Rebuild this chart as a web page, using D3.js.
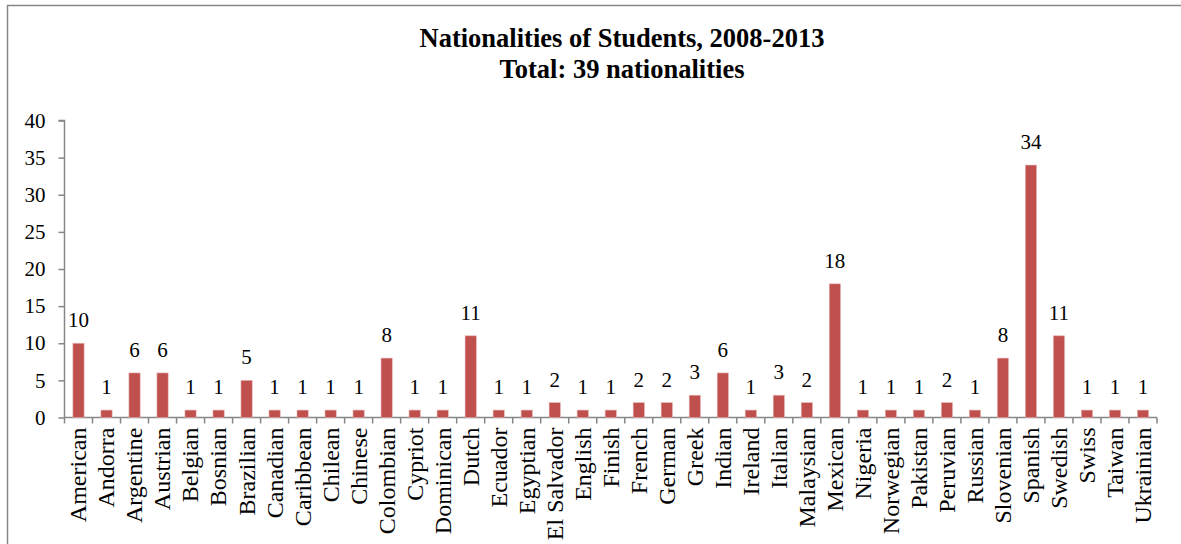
<!DOCTYPE html>
<html>
<head>
<meta charset="utf-8">
<script src="https://cdn.jsdelivr.net/npm/d3@7"></script>
<style>
  body { margin: 0; background: #fff; }
  text { font-family: "Liberation Serif", "Times New Roman", serif; fill: #000; }
</style>
</head>
<body>
<div id="chartDiv"></div>
<script>

// data
var nationalities = ["American", "Andorra", "Argentine", "Austrian", "Belgian", "Bosnian", "Brazilian",
  "Canadian", "Caribbean", "Chilean", "Chinese", "Colombian", "Cypriot", "Dominican", "Dutch",
  "Ecuador", "Egyptian", "El Salvador", "English", "Finish", "French", "German", "Greek", "Indian",
  "Ireland", "Italian", "Malaysian", "Mexican", "Nigeria", "Norwegian", "Pakistan", "Peruvian",
  "Russian", "Slovenian", "Spanish", "Swedish", "Swiss", "Taiwan", "Ukrainian"];
var students = [10, 1, 6, 6, 1, 1, 5, 1, 1, 1, 1, 8, 1, 1, 11, 1, 1, 2, 1, 1, 2, 2, 3, 6,
  1, 3, 2, 18, 1, 1, 1, 2, 1, 8, 34, 11, 1, 1, 1];
var yTicks = [0, 5, 10, 15, 20, 25, 30, 35, 40];
var titleLines = ["Nationalities of Students, 2008-2013", "Total: 39 nationalities"];

function drawChart() {
  var width = 1181;
  var height = 544;

  var svg = d3.select('#chartDiv').append('svg')
    .attr('width', width).attr('height', height);

  // chart frame (runs off the right and bottom of the window)
  svg.append('rect')
    .attr('x', 7.5).attr('y', 5.5)
    .attr('width', 1200).attr('height', 600)
    .attr('fill', 'none').attr('stroke', '#868686').attr('stroke-width', 1.5);

  // title
  svg.append('text')
    .attr('x', 622).attr('y', 47)
    .attr('text-anchor', 'middle')
    .attr('font-size', '26.5px').attr('font-weight', 'bold')
    .text(titleLines[0]);
  svg.append('text')
    .attr('x', 622).attr('y', 78)
    .attr('text-anchor', 'middle')
    .attr('font-size', '26.5px').attr('font-weight', 'bold')
    .text(titleLines[1]);

  var left = 64.5, right = 1157, top = 120.5, bottom = 417.5;

  var x = d3.scaleBand()
    .domain(nationalities)
    .range([left, right])
    .paddingInner(0.6).paddingOuter(0.3);

  var y = d3.scaleLinear()
    .domain([0, 40])
    .range([bottom, top]);

  // y axis
  var yAxis = svg.append('g')
    .attr('transform', 'translate(' + left + ',0)')
    .call(d3.axisLeft(y).tickValues(yTicks).tickSize(6).tickPadding(13));
  yAxis.selectAll('path, line').attr('stroke', '#868686').attr('stroke-width', 1.5);
  yAxis.select('.domain').attr('d', 'M-6,' + top + 'H0V' + bottom);
  yAxis.selectAll('text').attr('font-size', '21px').attr('fill', '#000');

  // x axis: line plus tick marks at the category boundaries
  var step = x.step();
  var xg = svg.append('g');
  xg.append('line')
    .attr('x1', left).attr('x2', right)
    .attr('y1', bottom).attr('y2', bottom)
    .attr('stroke', '#868686').attr('stroke-width', 1.5);
  xg.selectAll('line.tick')
    .data(d3.range(nationalities.length + 1))
    .enter().append('line')
    .attr('class', 'tick')
    .attr('x1', function(i) { return left + i * step; })
    .attr('x2', function(i) { return left + i * step; })
    .attr('y1', bottom).attr('y2', bottom + 6)
    .attr('stroke', '#868686').attr('stroke-width', 1.5);

  // category labels, rotated
  xg.selectAll('text')
    .data(nationalities)
    .enter().append('text')
    .attr('text-anchor', 'end')
    .attr('font-size', '24px')
    .attr('dy', '0.33em')
    .attr('transform', function(d) {
      return 'translate(' + (x(d) + x.bandwidth() / 2) + ',' + (bottom + 10) + ') rotate(-90)';
    })
    .text(function(d) { return d; });

  // bars
  svg.selectAll('rect.bar')
    .data(students)
    .enter().append('rect')
    .attr('class', 'bar')
    .attr('x', function(d, i) { return x(nationalities[i]); })
    .attr('y', function(d) { return y(d); })
    .attr('width', x.bandwidth())
    .attr('height', function(d) { return bottom - y(d); })
    .attr('fill', '#c0504d')
    .attr('stroke', '#e6b2b0').attr('stroke-width', 0.6);

  // value labels
  svg.selectAll('text.val')
    .data(students)
    .enter().append('text')
    .attr('class', 'val')
    .attr('text-anchor', 'middle')
    .attr('font-size', '21px')
    .attr('x', function(d, i) { return x(nationalities[i]) + x.bandwidth() / 2; })
    .attr('y', function(d) { return y(d) - 16; })
    .text(function(d) { return d; });
}

drawChart();
</script>
</body>
</html>
